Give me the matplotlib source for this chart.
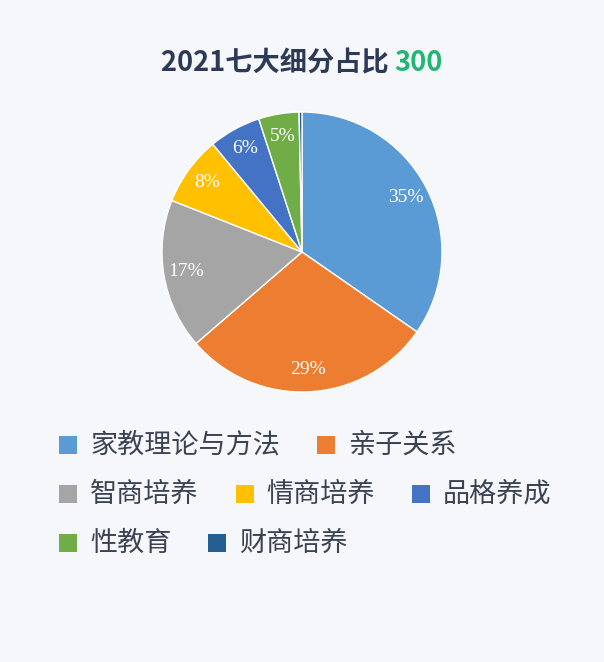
import matplotlib
matplotlib.use("Agg")
import matplotlib.pyplot as plt
from matplotlib.patches import Rectangle

plt.rcParams['font.family'] = ['Noto Sans CJK SC', 'DejaVu Sans']

# ---- data ----
categories = ["家教理论与方法", "亲子关系", "智商培养", "情商培养", "品格养成", "性教育", "财商培养"]
counts = [104, 87, 52, 24, 18, 14, 1]
colors = ["#5B9BD5", "#ED7D31", "#A5A5A5", "#FFC000", "#4472C4", "#70AD47", "#255E91"]
title_main = "2021七大细分占比"
title_total = "300"

W, H = 604, 662
BG = "#F5F7FA"
fig = plt.figure(figsize=(W / 100, H / 100), dpi=100, facecolor=BG)

# pie axes: center (302,252), radius 140 px
cx, cy, r = 302, 252, 140
ax = fig.add_axes([(cx - r) / W, (H - cy - r) / H, 2 * r / W, 2 * r / H])
ax.set_facecolor(BG)

def fmt(p):
    return f"{p:.0f}%" if p >= 1 else ""

wedges, texts, autotexts = ax.pie(
    counts, colors=colors, startangle=90, counterclock=False,
    radius=1.0, autopct=fmt, pctdistance=0.84,
    wedgeprops=dict(edgecolor="white", linewidth=1.0),
    textprops=dict(color="white", fontsize=14, family=["Liberation Serif", "DejaVu Serif"]))
ax.set_xlim(-1, 1)
ax.set_ylim(-1, 1)
ax.set_aspect("equal")
ax.axis("off")

# title
renderer = fig.canvas.get_renderer()
t1 = fig.text(0, 0, title_main + " ", fontsize=19.6, fontweight="heavy", color="#2D3A55")
t2 = fig.text(0, 0, title_total, fontsize=19.6, fontweight="heavy", color="#22B573")
w1 = t1.get_window_extent(renderer).width
w2 = t2.get_window_extent(renderer).width
x0 = (W - (w1 + w2)) / 2
ty = H - 60
t1.set_position((x0 / W, ty / H)); t1.set_va("center_baseline")
t2.set_position(((x0 + w1) / W, ty / H)); t2.set_va("center_baseline")

# legend (flow layout)
left, right_limit = 59, 590
sq = 18
gap_text = 13
gap_item = 37
row_y = [445, 494, 543]
x = left
row = 0
for cat, col in zip(categories, colors):
    t = fig.text(0, 0, cat, fontsize=19.5, color="#3B4252", va="center")
    tw = t.get_window_extent(renderer).width
    if x + sq + gap_text + tw > right_limit and x != left:
        row += 1
        x = left
    y = row_y[row]
    fig.patches.append(Rectangle(((x) / W, (H - y - sq / 2) / H), sq / W, sq / H,
                                 transform=fig.transFigure, facecolor=col, edgecolor="none"))
    t.set_position(((x + sq + gap_text) / W, (H - y) / H))
    x += sq + gap_text + tw + gap_item

fig.savefig("out.png", dpi=100, facecolor=BG)
